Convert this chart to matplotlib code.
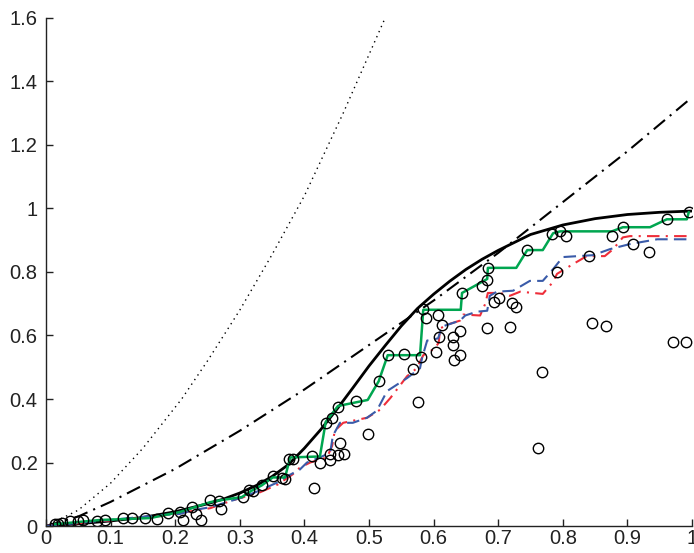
import matplotlib
matplotlib.use("Agg")
import matplotlib.pyplot as plt

plt.rcParams['font.family'] = ['Liberation Sans', 'DejaVu Sans']

# Corbes de referència
dot_x = [0, 0.05, 0.1, 0.15, 0.21, 0.25, 0.3, 0.35, 0.4, 0.46, 0.525]
dot_y = [0, 0.05, 0.135, 0.245, 0.40, 0.52, 0.68, 0.855, 1.04, 1.30, 1.60]

dashdot_x = [0, 0.05, 0.1, 0.2, 0.3, 0.4, 0.5, 0.6, 0.7, 0.8, 0.9, 1.0]
dashdot_y = [0, 0.03, 0.076, 0.18, 0.30, 0.43, 0.57, 0.71, 0.86, 1.02, 1.18, 1.35]

solid_x = [0, 0.05, 0.1, 0.15, 0.2, 0.25, 0.275, 0.3, 0.325, 0.35, 0.375, 0.4,
           0.425, 0.45, 0.475, 0.5, 0.525, 0.55, 0.575, 0.6, 0.625, 0.65, 0.675,
           0.7, 0.75, 0.8, 0.85, 0.9, 0.95, 1.0]
solid_y = [0, 0.007, 0.016, 0.027, 0.045, 0.070, 0.085, 0.104, 0.127, 0.156,
           0.193, 0.245, 0.303, 0.367, 0.435, 0.504, 0.568, 0.630, 0.685, 0.730,
           0.771, 0.808, 0.840, 0.868, 0.918, 0.948, 0.968, 0.981, 0.988, 0.992]

# Estimacions (verd, blau, vermell)
green_x = [0.014, 0.084, 0.161, 0.207, 0.254, 0.269, 0.303, 0.319, 0.334, 0.351,
           0.370, 0.378, 0.424, 0.433, 0.452, 0.498, 0.515, 0.529, 0.579, 0.584,
           0.642, 0.644, 0.683, 0.684, 0.728, 0.745, 0.769, 0.785, 0.796, 0.876,
           0.893, 0.935, 0.961, 0.992, 0.995]
green_y = [0.006, 0.019, 0.025, 0.044, 0.075, 0.081, 0.091, 0.112, 0.128, 0.153,
           0.153, 0.216, 0.219, 0.328, 0.378, 0.397, 0.456, 0.538, 0.538, 0.681,
           0.681, 0.734, 0.778, 0.813, 0.813, 0.869, 0.869, 0.922, 0.928, 0.928,
           0.941, 0.941, 0.966, 0.966, 0.988]

blue_x = [0, 0.176, 0.207, 0.228, 0.254, 0.280, 0.305, 0.331, 0.359, 0.370, 0.393,
          0.404, 0.424, 0.440, 0.444, 0.455, 0.475, 0.497, 0.512, 0.528, 0.559,
          0.579, 0.582, 0.590, 0.607, 0.613, 0.641, 0.649, 0.667, 0.683, 0.687,
          0.698, 0.723, 0.749, 0.769, 0.785, 0.800, 0.847, 0.873, 0.904, 0.946,
          0.992, 0.995]
blue_y = [0, 0.034, 0.038, 0.050, 0.059, 0.075, 0.091, 0.112, 0.138, 0.153, 0.178,
          0.200, 0.216, 0.231, 0.284, 0.325, 0.325, 0.341, 0.363, 0.425, 0.466,
          0.497, 0.528, 0.584, 0.591, 0.628, 0.647, 0.663, 0.675, 0.678, 0.725,
          0.738, 0.741, 0.772, 0.772, 0.809, 0.847, 0.853, 0.872, 0.888, 0.903,
          0.903, 0.916]

red_x = [0, 0.176, 0.207, 0.254, 0.289, 0.331, 0.359, 0.382, 0.393, 0.409, 0.435,
         0.443, 0.447, 0.460, 0.497, 0.517, 0.533, 0.559, 0.574, 0.584, 0.602,
         0.608, 0.610, 0.621, 0.641, 0.646, 0.672, 0.680, 0.684, 0.703, 0.718,
         0.734, 0.769, 0.785, 0.791, 0.816, 0.837, 0.865, 0.878, 0.893, 0.904,
         0.992, 0.995]
red_y = [0, 0.031, 0.041, 0.056, 0.081, 0.106, 0.131, 0.163, 0.184, 0.200, 0.216,
         0.253, 0.300, 0.325, 0.341, 0.366, 0.403, 0.472, 0.497, 0.538, 0.559,
         0.578, 0.622, 0.634, 0.647, 0.666, 0.663, 0.700, 0.734, 0.734, 0.725,
         0.738, 0.731, 0.769, 0.794, 0.825, 0.850, 0.850, 0.872, 0.909, 0.913,
         0.913, 0.919]

# Observacions (cercles)
obs_x = [0.014, 0.019, 0.025, 0.037, 0.050, 0.057, 0.079, 0.091, 0.119, 0.133,
         0.153, 0.172, 0.189, 0.207, 0.212, 0.226, 0.232, 0.240, 0.254, 0.268,
         0.271, 0.305, 0.314, 0.320, 0.334, 0.351, 0.365, 0.370, 0.376, 0.382,
         0.412, 0.415, 0.424, 0.433, 0.443, 0.440, 0.440, 0.452, 0.461, 0.455,
         0.452, 0.480, 0.498, 0.515, 0.529, 0.554, 0.580, 0.568, 0.576,
         0.584, 0.588, 0.607, 0.613, 0.608, 0.604, 0.630, 0.641, 0.630, 0.641,
         0.632, 0.683, 0.718, 0.694, 0.701, 0.722, 0.728, 0.644, 0.675, 0.683,
         0.684, 0.745, 0.791, 0.768, 0.762, 0.995, 0.961, 0.893, 0.876, 0.909,
         0.933, 0.841, 0.805, 0.796, 0.783, 0.845, 0.867, 0.971, 0.991]
obs_y = [0.006, 0.006, 0.009, 0.016, 0.016, 0.019, 0.016, 0.019, 0.025, 0.025,
         0.025, 0.022, 0.041, 0.044, 0.019, 0.059, 0.037, 0.019, 0.081, 0.078,
         0.053, 0.091, 0.112, 0.109, 0.128, 0.156, 0.150, 0.147, 0.212, 0.212,
         0.222, 0.119, 0.197, 0.325, 0.341, 0.228, 0.209, 0.225, 0.228, 0.263,
         0.375, 0.394, 0.291, 0.456, 0.538, 0.541, 0.531, 0.494, 0.391,
         0.684, 0.656, 0.666, 0.634, 0.594, 0.547, 0.594, 0.613, 0.569, 0.538,
         0.522, 0.625, 0.628, 0.706, 0.719, 0.703, 0.691, 0.734, 0.756, 0.775,
         0.813, 0.869, 0.800, 0.484, 0.247, 0.988, 0.966, 0.941, 0.913, 0.888,
         0.863, 0.850, 0.913, 0.928, 0.919, 0.638, 0.631, 0.581, 0.581]

fig = plt.figure(figsize=(6.94, 5.53), dpi=100)
ax = fig.add_axes([0.0663, 0.0488, 0.9308, 0.9187])

ax.plot(dot_x, dot_y, color="black", lw=1.0, ls=(0, (1, 3)))
ax.plot(dashdot_x, dashdot_y, color="black", lw=1.5, ls=(0, (7, 3, 1, 3)))
ax.plot(solid_x, solid_y, color="black", lw=2.0)
ax.plot(red_x, red_y, color="#ee2e3a", lw=1.5, ls=(0, (6, 3, 1, 3)))
ax.plot(blue_x, blue_y, color="#3a5ba9", lw=1.5, ls=(0, (6, 3)))
ax.plot(green_x, green_y, color="#00a650", lw=1.8)
ax.plot(obs_x, obs_y, ls="none", marker="o", ms=7.5, mfc="none",
        mec="black", mew=1.0)

ax.set_xlim(0, 1)
ax.set_ylim(0, 1.6)
ax.set_xticks([0, 0.1, 0.2, 0.3, 0.4, 0.5, 0.6, 0.7, 0.8, 0.9, 1])
ax.set_xticklabels(["0", "0.1", "0.2", "0.3", "0.4", "0.5", "0.6", "0.7", "0.8", "0.9", "1"])
ax.set_yticks([0, 0.2, 0.4, 0.6, 0.8, 1.0, 1.2, 1.4, 1.6])
ax.set_yticklabels(["0", "0.2", "0.4", "0.6", "0.8", "1", "1.2", "1.4", "1.6"])
ax.tick_params(direction="in", length=5, width=1, labelsize=14.5, colors="#222222")
ax.tick_params(axis="x", pad=2)
ax.tick_params(axis="y", pad=6)
ax.spines["top"].set_visible(False)
ax.spines["right"].set_visible(False)
for s in ["left", "bottom"]:
    ax.spines[s].set_linewidth(1.0)
    ax.spines[s].set_color("#222222")

fig.savefig("out.png", dpi=100)
